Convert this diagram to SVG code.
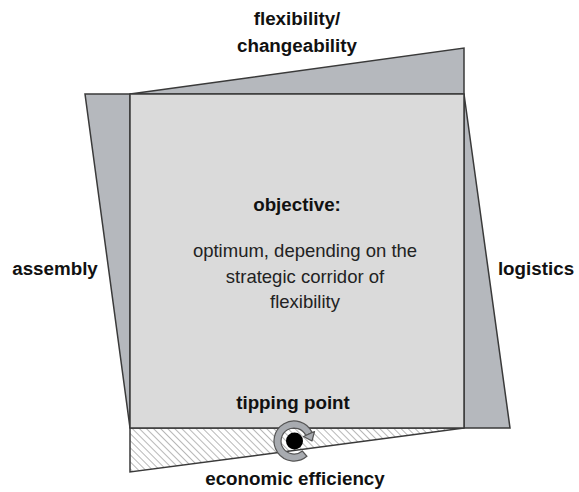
<svg xmlns="http://www.w3.org/2000/svg" width="579" height="492" viewBox="0 0 579 492">
<defs>
<style>
.wedge{fill:#b5b8bd;stroke:#3a3a3a;stroke-width:1.5;stroke-linejoin:miter}
.main{fill:#dadada;stroke:#3a3a3a;stroke-width:1.5}
.lbl{font-family:"Liberation Sans",Arial,sans-serif;font-weight:bold;font-size:18.8px;fill:#111;text-anchor:middle}
.body{font-family:"Liberation Sans",Arial,sans-serif;font-size:18.5px;fill:#222;text-anchor:middle}
</style>
<pattern id="hatch" patternUnits="userSpaceOnUse" width="5" height="5" patternTransform="rotate(-45)">
<rect width="5" height="5" fill="#ffffff"/>
<line x1="0" y1="0" x2="0" y2="5" stroke="#9a9a9a" stroke-width="1.4"/>
</pattern>
</defs>
<g id="top-wedge"><polygon class="wedge" points="130,94 464,48 464,94"/></g>
<g id="left-wedge"><polygon class="wedge" points="85,94 130,94 130,428"/></g>
<g id="right-wedge"><polygon class="wedge" points="464,94 464,428 510,428"/></g>
<g id="bottom-wedge"><polygon points="130,428 464,428 130,472" fill="url(#hatch)" stroke="#3a3a3a" stroke-width="1.5"/></g>
<g id="main"><rect class="main" x="130" y="94" width="334" height="334"/>
<text class="lbl" x="297" y="211">objective:</text>
<text class="body" x="305" y="257">optimum, depending on the</text>
<text class="body" x="305" y="283">strategic corridor of</text>
<text class="body" x="305" y="308">flexibility</text>
<text class="lbl" x="293" y="409">tipping point</text>
</g>
<g id="labels">
<text class="lbl" x="297" y="25">flexibility/</text>
<text class="lbl" x="297" y="52">changeability</text>
<text class="lbl" x="55" y="275">assembly</text>
<text class="lbl" x="536" y="275">logistics</text>
<text class="lbl" x="295" y="485">economic efficiency</text>
</g>
<g id="tipping-icon">
<path d="M312.1,432.5 A20,20 0 1 0 306.9,456.3 L302.4,451 A13,13 0 1 1 305.8,435.5 Z" fill="#a8abb0" stroke="#555" stroke-width="1.2"/>
<polygon points="303.5,436.5 314.5,431.5 312,441" fill="#a8abb0" stroke="#555" stroke-width="1.2" stroke-linejoin="round"/>
<circle cx="294.5" cy="441" r="8.5" fill="#000"/>
</g>
</svg>
